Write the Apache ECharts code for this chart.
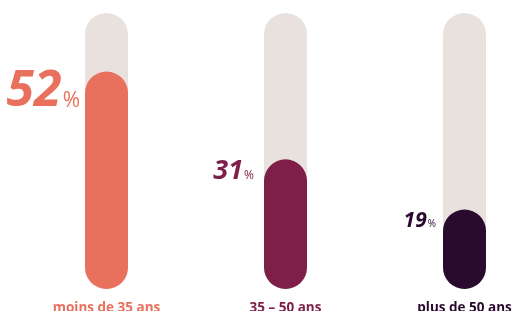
<!DOCTYPE html>
<html>
<head>
<meta charset="utf-8">
<script src="https://cdn.jsdelivr.net/npm/echarts@6/dist/echarts.min.js"></script>
<style>
  html, body { margin: 0; padding: 0; background: #fff; }
  #chart { width: 515px; height: 311px; }
</style>
</head>
<body>
<div id="chart"></div>
<script>
const categories = ["moins de 35 ans", "35 – 50 ans", "plus de 50 ans"];
const values = [52, 31, 19];
const colors = ["#e8705c", "#7d1f48", "#2b0a30"];
const numberSizes = [50, 27, 21];
const percentSizes = [21, 12, 10];

const chart = echarts.init(document.getElementById("chart"));

const labelOffsets = [[-5, 20], [-10, 12], [-7, 11]];

chart.setOption({
  animation: false,
  grid: {
    left: 17,
    width: 537,
    top: 13,
    bottom: 22,
    outerBoundsMode: "none",
  },
  xAxis: {
    type: "category",
    data: categories,
    axisLine: { show: false },
    axisTick: { show: false },
    axisLabel: {
      margin: 12,
      fontFamily: "Open Sans",
      fontWeight: "bold",
      fontSize: 13.5,
      color: (val, idx) => colors[idx],
    },
  },
  yAxis: {
    type: "value",
    min: 0,
    max: 66,
    show: false,
  },
  series: [
    {
      type: "bar",
      barWidth: 43,
      showBackground: true,
      backgroundStyle: {
        color: "#e8e1dd",
        borderRadius: 21.5,
      },
      data: values.map((v, i) => ({
        value: v,
        itemStyle: { color: colors[i], borderRadius: 21.5 },
        label: {
          show: true,
          position: labelOffsets[i],
          align: "right",
          verticalAlign: "middle",
          formatter: "{n|{c}}{p|%}",
          rich: {
            n: {
              fontFamily: "Open Sans",
              fontWeight: "bold",
              fontStyle: "italic",
              fontSize: numberSizes[i],
              color: colors[i],
              verticalAlign: "bottom",
            },
            p: {
              fontFamily: "Open Sans",
              fontSize: percentSizes[i],
              color: colors[i],
              verticalAlign: "bottom",
              padding: [0, 0, Math.round(numberSizes[i] * 0.1), 1],
            },
          },
        },
      })),
    },
  ],
});
</script>
</body>
</html>
